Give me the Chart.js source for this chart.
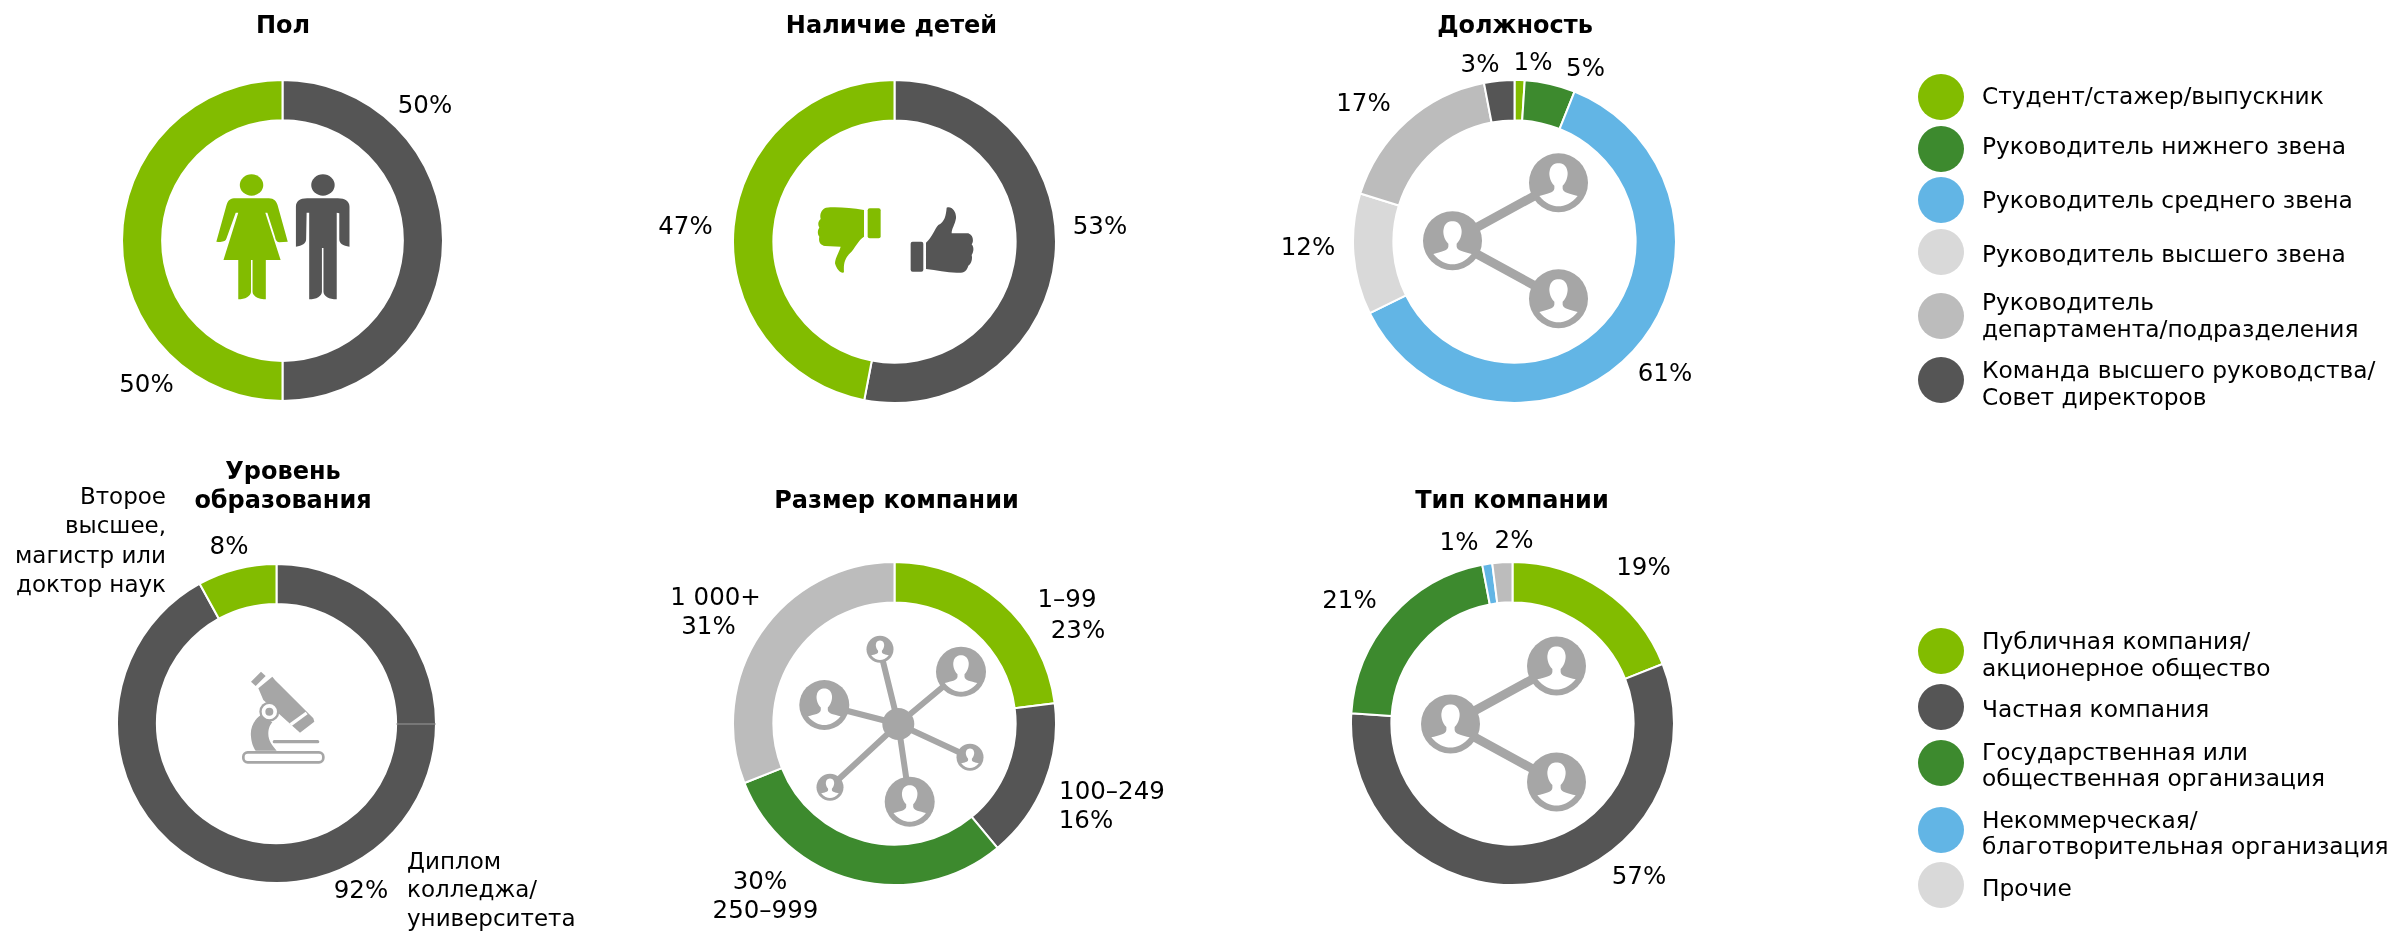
<!DOCTYPE html>
<html lang="ru">
<head>
    <meta charset="UTF-8">
    <title>Профиль респондентов</title>
    <script src="https://cdn.jsdelivr.net/npm/chart.js"></script>
    <style>
        html, body { margin: 0; background: #fff; }
        #page {
            position: relative;
            width: 2391px;
            height: 933px;
            overflow: hidden;
            font-family: "DejaVu Sans", Verdana, sans-serif;
            color: #000;
        }
        #page canvas { position: absolute; }
        #icons { position: absolute; left: 0; top: 0; pointer-events: none; }
        .txt { position: absolute; white-space: nowrap; line-height: 1; }
        .label { font-size: 24.5px; }
        .note { font-size: 23px; }
        .title { font-size: 24px; font-weight: bold; }
        .legend { font-size: 23.3px; }
        .dot { position: absolute; width: 46px; height: 46px; border-radius: 50%; }
    </style>
</head>
<body>
<div id="page">
    <svg id="icons" width="2391" height="933" viewBox="0 0 2391 933" xmlns="http://www.w3.org/2000/svg">
        <defs>
            <path id="bust" fill="#fff" d="M-.65 .45C-.4 .38 -.15 .35 -.14 .2L-.14 .1C-.3 -.05 -.33 -.3 -.3 -.4C-.27 -.6 -.12 -.66 0 -.66C.12 -.66 .27 -.6 .3 -.4C.33 -.3 .3 -.05 .14 .1L.14 .2C.15 .35 .4 .38 .65 .45C.45 .7 .2 .8 0 .8C-.2 .8 -.45 .7 -.65 .45Z"/>
            <g id="person"><circle r="1" fill="#a6a6a6"/><use href="#bust"/></g>
            <g id="three">
                <path d="M-60 0L46 -58M-60 0L46 58" stroke="#a6a6a6" stroke-width="9" fill="none"/>
                <use href="#person" transform="translate(-60 0) scale(29.5)"/>
                <use href="#person" transform="translate(46 -58) scale(29.5)"/>
                <use href="#person" transform="translate(46 58) scale(29.5)"/>
            </g>
        </defs>

        <!-- man and woman -->
        <g transform="translate(200 160) scale(.5102 .3333)">
            <g fill="#82bc00">
                <ellipse cx="101" cy="75" rx="23" ry="32"/>
                <path d="M70 115L135 115C145 115 150 125 152 135L172 245L155 247C150 245 148 240 147 230L132 158L128 158L158 300L129 300L129 418C115 418 103 408 103 395L103 300L100 300L100 395C100 408 88 418 75 418L75 300L46 300L75 158L70 158L52 235C50 245 45 247 32 245L52 135C55 120 60 115 70 115Z"/>
            </g>
            <g fill="#555">
                <ellipse cx="241" cy="75" rx="23" ry="32"/>
                <path d="M210 115L270 115C285 115 293 125 293 140L293 260C280 258 273 250 273 238L273 160L268 158L268 418C253 418 242 408 242 395L242 264L239 264L239 395C239 408 228 418 214 418L214 158L209 158L208 238C208 250 200 258 188 260L188 140C188 125 195 115 210 115Z"/>
            </g>
        </g>

        <!-- thumbs -->
        <g transform="translate(800 195) scale(.3333)">
            <g fill="#82bc00">
                <path d="M78 38C110 35 150 38 192 45L192 125C175 135 165 160 150 175C135 190 130 205 132 232C125 238 110 225 105 205C105 190 118 170 122 155L75 153C60 150 55 140 58 125C52 118 52 105 58 98C52 88 55 78 62 72C58 58 65 42 78 38Z"/>
                <rect x="203" y="40" width="39" height="90" rx="6"/>
            </g>
            <g fill="#555">
                <rect x="332" y="140" width="38" height="90" rx="6"/>
                <path d="M378 143C395 130 405 100 415 90C435 80 438 60 440 38C455 32 470 50 468 70C465 90 455 100 455 115L505 115C520 120 522 140 515 148C522 155 522 170 515 180C518 190 515 205 505 212C500 230 490 235 470 233C440 233 410 225 378 222Z"/>
            </g>
        </g>

        <!-- three linked people -->
        <use href="#three" transform="translate(1512.5 240.7)"/>
        <use href="#three" transform="translate(1510.5 724)"/>

        <!-- microscope -->
        <g transform="translate(225 660) scale(.3333)">
            <g fill="#a6a6a6">
                <path d="M78 65L108 35L122 48L92 78Z"/>
                <path d="M100 85L142 50L150 60L265 175L268 185L225 218L210 205L160 160L115 120Z"/>
                <path d="M108 165C85 180 75 205 78 230C80 250 85 262 92 272L155 272C140 255 130 240 130 222C130 205 135 195 142 187Z"/>
                <circle cx="133" cy="155" r="30"/>
            </g>
            <circle cx="133" cy="155" r="17.5" fill="none" stroke="#fff" stroke-width="11"/>
            <path d="M197 194L245 159" stroke="#fff" stroke-width="10" fill="none"/>
            <path d="M148 245L278 245" stroke="#a6a6a6" stroke-width="10" stroke-linecap="round"/>
            <rect x="55" y="277" width="240" height="30" rx="13" fill="#fff" stroke="#a6a6a6" stroke-width="8"/>
        </g>

        <!-- network -->
        <g stroke="#a6a6a6" fill="none">
            <path stroke-width="6" d="M898.3 724L961 671.7M898.3 724L824.3 705M898.3 724L909.7 801.7M898.3 724L880 649.3M898.3 724L970 757.3M898.3 724L830 787.3"/>
        </g>
        <circle cx="898.3" cy="724" r="16" fill="#a6a6a6"/>
        <use href="#person" transform="translate(961 671.7) scale(25)"/>
        <use href="#person" transform="translate(824.3 705) scale(25)"/>
        <use href="#person" transform="translate(909.7 801.7) scale(25)"/>
        <use href="#person" transform="translate(880 649.3) scale(13.5)"/>
        <use href="#person" transform="translate(970 757.3) scale(13.5)"/>
        <use href="#person" transform="translate(830 787.3) scale(13.5)"/>
    </svg>
</div>

<script>
    // Values, clockwise from 12 o'clock
    const genderValues = [50, 50];
    const childrenValues = [53, 47];
    const positionValues = [1, 5, 61, 12, 17, 3];
    const educationValues = [92, 8];
    const sizeValues = [23, 16, 30, 31];
    const typeValues = [19, 57, 21, 1, 2];

    const genderCategories = ['Мужчины', 'Женщины'];
    const childrenCategories = ['Есть дети', 'Нет детей'];
    const positionCategories = ['Студент/стажер/выпускник', 'Руководитель нижнего звена', 'Руководитель среднего звена', 'Руководитель высшего звена', 'Руководитель департамента/подразделения', 'Команда высшего руководства/Совет директоров'];
    const educationCategories = ['Диплом колледжа/университета', 'Второе высшее, магистр или доктор наук'];
    const sizeCategories = ['1–99', '100–249', '250–999', '1 000+'];
    const typeCategories = ['Публичная компания/акционерное общество', 'Частная компания', 'Государственная или общественная организация', 'Некоммерческая/благотворительная организация', 'Прочие'];

    const GREEN = '#82bc00', DARK = '#555555', DKGREEN = '#3d8a2e', BLUE = '#62b5e5', LIGHT = '#d9d9d9', MID = '#bcbcbc';

    const page = document.getElementById('page');

    function addText(lines, x, y, cls, align) {
        lines.forEach((line, i) => {
            const el = document.createElement('div');
            el.className = 'txt ' + cls;
            el.textContent = line.text;
            el.style.left = (line.x !== undefined ? line.x : x) + 'px';
            el.style.top = line.y + 'px';
            const tx = align === 'right' ? '-100%' : align === 'left' ? '0' : '-50%';
            el.style.transform = `translate(${tx}, -50%)`;
            page.appendChild(el);
        });
    }

    // faint seam the source picture has in the education ring
    const seamPlugin = {
        id: 'seam',
        afterDatasetsDraw(chart) {
            const arc = chart.getDatasetMeta(0).data[0];
            const ctx = chart.ctx;
            ctx.save();
            ctx.strokeStyle = '#9a9a9a';
            ctx.lineWidth = 1;
            ctx.beginPath();
            ctx.moveTo(arc.x + arc.innerRadius, arc.y + 0.5);
            ctx.lineTo(arc.x + arc.outerRadius, arc.y + 0.5);
            ctx.stroke();
            ctx.restore();
        }
    };

    function addRing(cx, cy, radius, categories, values, colors, plugins) {
        const size = Math.round(radius * 2 + 2);
        const canvas = document.createElement('canvas');
        canvas.width = size;
        canvas.height = size;
        canvas.style.left = (cx - size / 2) + 'px';
        canvas.style.top = (cy - size / 2) + 'px';
        page.insertBefore(canvas, page.firstChild);
        new Chart(canvas, {
            type: 'doughnut',
            data: {
                labels: categories,
                datasets: [{
                    data: values,
                    backgroundColor: colors,
                    borderColor: '#ffffff',
                    borderWidth: 2
                }]
            },
            options: {
                responsive: false,
                animation: false,
                cutout: '75%',
                plugins: { legend: { display: false }, tooltip: { enabled: false } }
            },
            plugins: plugins || []
        });
    }

    addRing(282.5, 240.5, 160.5, genderCategories, genderValues, [DARK, GREEN]);
    addRing(894.5, 241, 161.5, childrenCategories, childrenValues, [DARK, GREEN]);
    addRing(1514, 241, 161.5, positionCategories, positionValues, [GREEN, DKGREEN, BLUE, LIGHT, MID, DARK]);
    addRing(276, 723.5, 159.5, educationCategories, educationValues, [DARK, GREEN], [seamPlugin]);
    addRing(894.5, 723.5, 161.5, sizeCategories, sizeValues, [GREEN, DARK, DKGREEN, MID]);
    addRing(1512, 723.5, 161.5, typeCategories, typeValues, [GREEN, DARK, DKGREEN, BLUE, MID]);

    // Titles
    addText([{ text: 'Пол', x: 283, y: 25 }], 0, 0, 'title');
    addText([{ text: 'Наличие детей', x: 891.5, y: 25 }], 0, 0, 'title');
    addText([{ text: 'Должность', x: 1515, y: 25 }], 0, 0, 'title');
    addText([{ text: 'Уровень', x: 283, y: 471 }, { text: 'образования', x: 283, y: 500 }], 0, 0, 'title');
    addText([{ text: 'Размер компании', x: 896.5, y: 500 }], 0, 0, 'title');
    addText([{ text: 'Тип компании', x: 1512, y: 500 }], 0, 0, 'title');

    // Value labels
    const pct = v => v + '%';
    addText([
        { text: pct(genderValues[0]), x: 425, y: 105 },
        { text: pct(genderValues[1]), x: 146.5, y: 384 },
        { text: pct(childrenValues[0]), x: 1100, y: 226 },
        { text: pct(childrenValues[1]), x: 685.5, y: 226 },
        { text: pct(positionValues[0]), x: 1533, y: 62 },
        { text: pct(positionValues[1]), x: 1585.5, y: 68 },
        { text: pct(positionValues[2]), x: 1665, y: 373 },
        { text: pct(positionValues[3]), x: 1308, y: 247 },
        { text: pct(positionValues[4]), x: 1363.5, y: 103 },
        { text: pct(positionValues[5]), x: 1480, y: 64 },
        { text: pct(educationValues[0]), x: 361, y: 890 },
        { text: pct(educationValues[1]), x: 229, y: 546 },
        { text: sizeCategories[0], x: 1067, y: 599 },
        { text: pct(sizeValues[0]), x: 1078, y: 630 },
        { text: sizeCategories[1], x: 1112, y: 791 },
        { text: pct(sizeValues[1]), x: 1086, y: 820 },
        { text: pct(sizeValues[2]), x: 760, y: 881 },
        { text: sizeCategories[2], x: 765.5, y: 910 },
        { text: sizeCategories[3], x: 715.5, y: 597 },
        { text: pct(sizeValues[3]), x: 708.5, y: 626 },
        { text: pct(typeValues[0]), x: 1643.5, y: 567 },
        { text: pct(typeValues[1]), x: 1639, y: 876 },
        { text: pct(typeValues[2]), x: 1349.5, y: 600 },
        { text: pct(typeValues[3]), x: 1459, y: 542 },
        { text: pct(typeValues[4]), x: 1514, y: 540 }
    ], 0, 0, 'label');

    addText([
        { text: 'Второе', y: 496 },
        { text: 'высшее,', y: 525 },
        { text: 'магистр или', y: 555 },
        { text: 'доктор наук', y: 584 }
    ], 166, 0, 'note', 'right');
    addText([
        { text: 'Диплом', y: 861 },
        { text: 'колледжа/', y: 889 },
        { text: 'университета', y: 918 }
    ], 407, 0, 'note', 'left');

    // Legends
    function addDot(y, color) {
        const d = document.createElement('div');
        d.className = 'dot';
        d.style.left = (1940.5 - 23) + 'px';
        d.style.top = (y - 23) + 'px';
        d.style.background = color;
        page.appendChild(d);
    }
    [[97, GREEN], [149, DKGREEN], [200, BLUE], [252, LIGHT], [316, MID], [380, DARK],
     [651, GREEN], [707, DARK], [762.5, DKGREEN], [830, BLUE], [885, LIGHT]]
        .forEach(([y, c]) => addDot(y, c));

    addText([
        { text: 'Студент/стажер/выпускник', y: 96 },
        { text: 'Руководитель нижнего звена', y: 146 },
        { text: 'Руководитель среднего звена', y: 200 },
        { text: 'Руководитель высшего звена', y: 254 },
        { text: 'Руководитель', y: 302 },
        { text: 'департамента/подразделения', y: 329 },
        { text: 'Команда высшего руководства/', y: 370 },
        { text: 'Совет директоров', y: 397 },
        { text: 'Публичная компания/', y: 641 },
        { text: 'акционерное общество', y: 668 },
        { text: 'Частная компания', y: 709 },
        { text: 'Государственная или', y: 752 },
        { text: 'общественная организация', y: 778 },
        { text: 'Некоммерческая/', y: 820 },
        { text: 'благотворительная организация', y: 846 },
        { text: 'Прочие', y: 888 }
    ], 1982, 0, 'legend', 'left');
</script>
</body>
</html>
